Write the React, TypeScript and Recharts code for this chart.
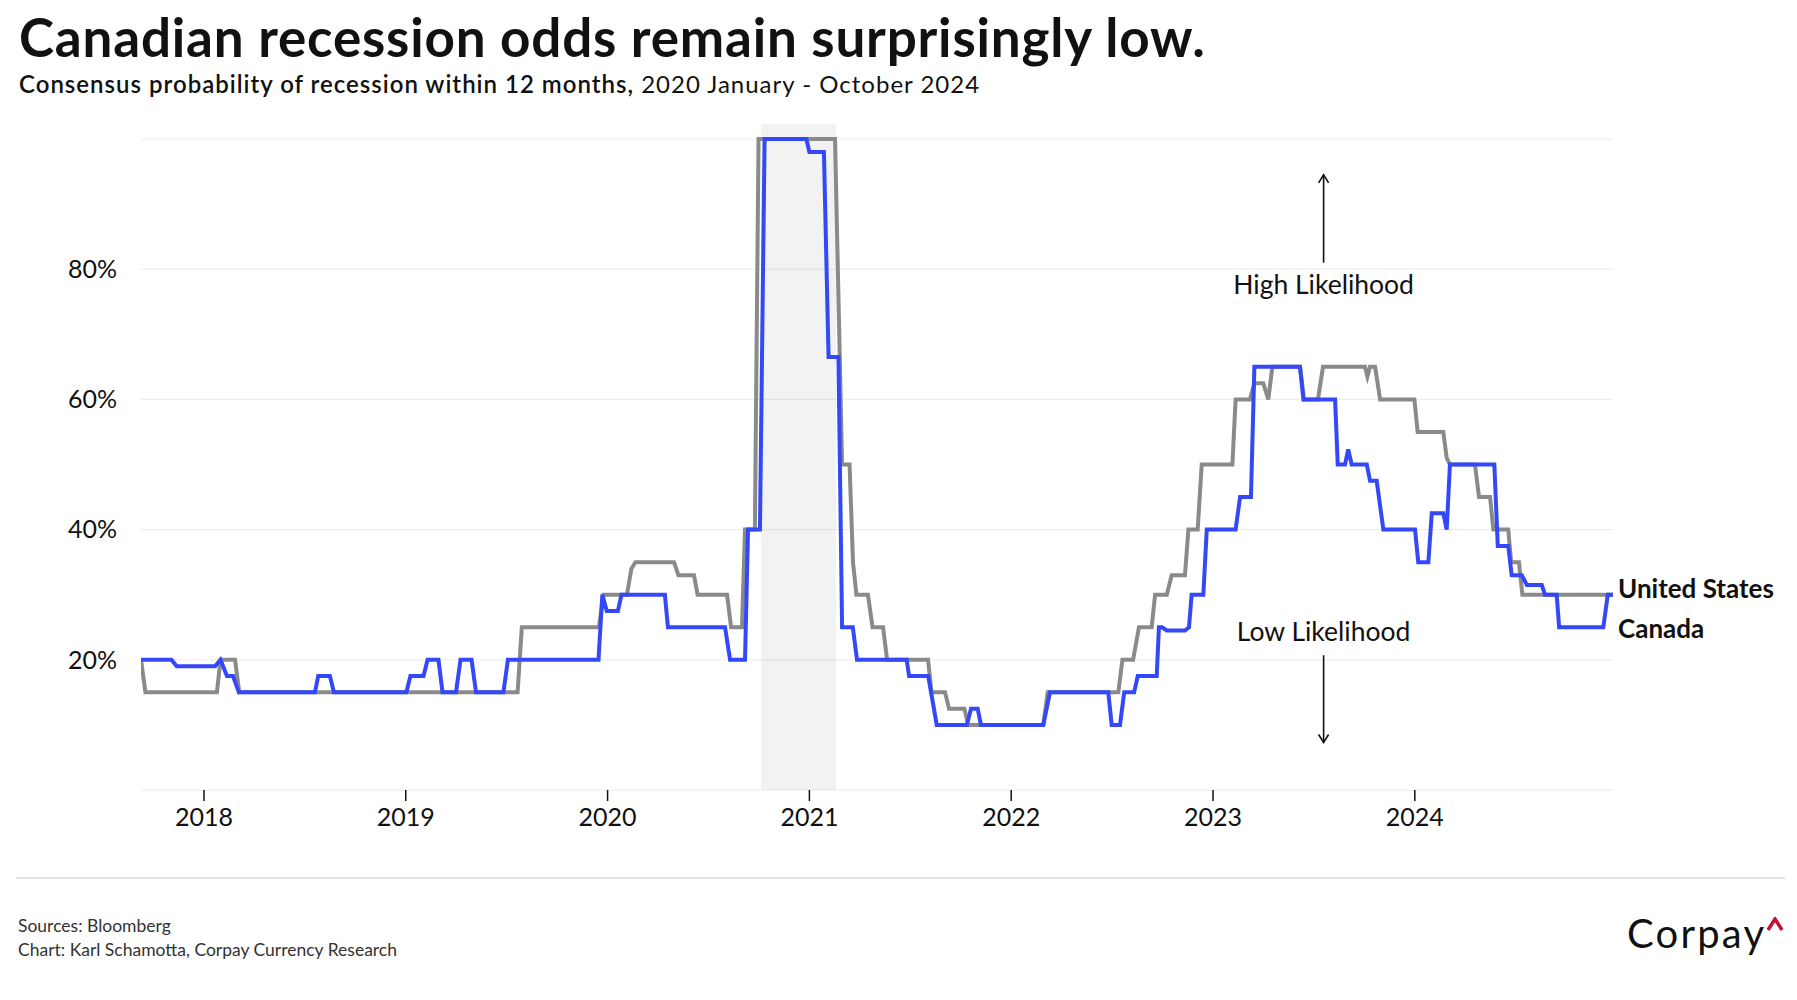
import {
  LineChart,
  Line,
  XAxis,
  YAxis,
  CartesianGrid,
  ReferenceArea,
  ReferenceLine,
  ReferenceDot,
} from 'recharts'

const FONT = 'Lato, "Noto Sans", sans-serif'

// [decimal year, consensus probability of recession in %]
const unitedStates: [number, number][] = [
  [2017.688, 20], [2017.71, 15], [2018.064, 15], [2018.082, 20], [2018.154, 20], [2018.175, 15],
  [2019.554, 15], [2019.575, 25], [2019.957, 25], [2019.98, 30], [2020.096, 30], [2020.118, 34],
  [2020.138, 35], [2020.329, 35], [2020.351, 33], [2020.428, 33], [2020.446, 30], [2020.592, 30],
  [2020.612, 25], [2020.666, 25], [2020.681, 40], [2020.73, 40], [2020.748, 100], [2021.127, 100],
  [2021.162, 50], [2021.199, 50], [2021.216, 35], [2021.233, 30], [2021.29, 30], [2021.313, 25],
  [2021.365, 25], [2021.385, 20], [2021.588, 20], [2021.605, 15], [2021.672, 15], [2021.692, 12.5],
  [2021.768, 12.5], [2021.787, 10], [2022.159, 10], [2022.181, 15], [2022.531, 15], [2022.551, 20],
  [2022.604, 20], [2022.633, 25], [2022.696, 25], [2022.713, 30], [2022.771, 30], [2022.795, 33],
  [2022.861, 33], [2022.878, 40], [2022.924, 40], [2022.944, 50], [2023.096, 50], [2023.112, 60],
  [2023.183, 60], [2023.205, 62.5], [2023.249, 62.5], [2023.274, 60], [2023.294, 65], [2023.431, 65],
  [2023.451, 60], [2023.52, 60], [2023.545, 65], [2023.753, 65], [2023.765, 63.5], [2023.778, 65],
  [2023.803, 65], [2023.828, 60], [2023.998, 60], [2024.014, 55], [2024.141, 55], [2024.158, 51],
  [2024.174, 50], [2024.298, 50], [2024.318, 45], [2024.373, 45], [2024.389, 40], [2024.463, 40],
  [2024.477, 35], [2024.516, 35], [2024.533, 30], [2024.982, 30],
]

const canada: [number, number][] = [
  [2017.688, 20], [2017.839, 20], [2017.865, 19], [2018.055, 19], [2018.082, 20], [2018.114, 17.5],
  [2018.144, 17.5], [2018.173, 15], [2018.55, 15], [2018.566, 17.5], [2018.624, 17.5], [2018.644, 15],
  [2019.003, 15], [2019.023, 17.5], [2019.088, 17.5], [2019.108, 20], [2019.162, 20], [2019.182, 15],
  [2019.249, 15], [2019.271, 20], [2019.326, 20], [2019.348, 15], [2019.484, 15], [2019.506, 20],
  [2019.955, 20], [2019.974, 30], [2019.996, 27.5], [2020.051, 27.5], [2020.069, 30], [2020.284, 30],
  [2020.299, 25], [2020.582, 25], [2020.607, 20], [2020.681, 20], [2020.696, 40], [2020.755, 40],
  [2020.778, 100], [2020.985, 100], [2021.0, 98], [2021.072, 98], [2021.095, 66.5], [2021.144, 66.5],
  [2021.162, 25], [2021.215, 25], [2021.236, 20], [2021.482, 20], [2021.494, 17.5], [2021.589, 17.5],
  [2021.631, 10], [2021.78, 10], [2021.801, 12.5], [2021.834, 12.5], [2021.85, 10], [2022.159, 10],
  [2022.192, 15], [2022.481, 15], [2022.498, 10], [2022.539, 10], [2022.56, 15], [2022.609, 15],
  [2022.627, 17.5], [2022.721, 17.5], [2022.732, 25], [2022.747, 25], [2022.771, 24.5], [2022.861, 24.5],
  [2022.881, 25], [2022.894, 30], [2022.952, 30], [2022.969, 40], [2023.112, 40], [2023.134, 45],
  [2023.188, 45], [2023.205, 65], [2023.431, 65], [2023.448, 60], [2023.605, 60], [2023.618, 50],
  [2023.654, 50], [2023.67, 52.3], [2023.687, 50], [2023.762, 50], [2023.778, 47.5], [2023.811, 47.5],
  [2023.844, 40], [2024.001, 40], [2024.017, 35], [2024.067, 35], [2024.084, 42.5], [2024.141, 42.5],
  [2024.158, 40], [2024.174, 50], [2024.394, 50], [2024.411, 37.5], [2024.463, 37.5], [2024.48, 33],
  [2024.53, 33], [2024.555, 31.5], [2024.629, 31.5], [2024.645, 30], [2024.703, 30], [2024.715, 25],
  [2024.934, 25], [2024.956, 30], [2024.982, 30],
]

const yearTicks = [2018, 2019, 2020, 2021, 2022, 2023, 2024]
const pctTicks = [0, 20, 40, 60, 80, 100]
const xDomain: [number, number] = [2017.688, 2024.982]
const shadedPeriod: [number, number] = [2020.76, 2021.132]

// annotation arrows: x, from %, to %
const annotationX = 2023.548
const highArrow: [number, number] = [81, 94.5]
const lowArrow: [number, number] = [20.7, 7.3]

const usData = unitedStates.map(([t, v]) => ({ t, v }))
const caData = canada.map(([t, v]) => ({ t, v }))
const usLast = unitedStates[unitedStates.length - 1]
const caLast = canada[canada.length - 1]

function Arrow(props: any) {
  const { x1, y1, x2, y2 } = props
  if ([x1, y1, x2, y2].some((v) => v == null || Number.isNaN(v))) return null
  const dir = y2 < y1 ? -1 : 1
  return (
    <g>
      <line x1={x1} y1={y1} x2={x2} y2={y2} stroke="#111" strokeWidth={1.6} />
      <polyline
        points={`${x2 - 5},${y2 - dir * 8} ${x2},${y2} ${x2 + 5},${y2 - dir * 8}`}
        fill="none"
        stroke="#111"
        strokeWidth={1.6}
      />
    </g>
  )
}

function textShape(label: string, dx: number, dy: number, anchor: string, weight: number, size: number) {
  return (p: any) => (
    <text
      x={p.cx + dx}
      y={p.cy + dy}
      textAnchor={anchor}
      fontFamily={FONT}
      fontSize={size}
      fontWeight={weight}
      fill="#111"
    >
      {label}
    </text>
  )
}

export default function App() {
  return (
    <div style={{ position: 'relative', width: 1797, height: 1000, background: '#fff', fontFamily: FONT }}>
      <style>{'body{margin:0}'}</style>

      <LineChart
        width={1797}
        height={880}
        margin={{ top: 139, right: 184, bottom: 40, left: 0 }}
        style={{ position: 'absolute', left: 0, top: 0 }}
      >
        <CartesianGrid vertical={false} stroke="#ebebeb" />
        <ReferenceArea
          x1={shadedPeriod[0]}
          x2={shadedPeriod[1]}
          y1={0}
          y2={102.3}
          ifOverflow="visible"
          fill="#000"
          fillOpacity={0.05}
          stroke="none"
        />
        <XAxis
          dataKey="t"
          type="number"
          domain={xDomain}
          ticks={yearTicks}
          allowDataOverflow
          axisLine={false}
          tickSize={11}
          tickMargin={7}
          tickLine={{ stroke: '#111', strokeWidth: 1.5 }}
          tick={{ fill: '#111', fontSize: 25, fontFamily: FONT }}
          height={50}
        />
        <YAxis
          type="number"
          domain={[0, 100]}
          ticks={pctTicks}
          axisLine={false}
          tickLine={false}
          tickSize={0}
          tickMargin={24}
          width={141}
          tick={{ fill: '#111', fontSize: 25, fontFamily: FONT }}
          tickFormatter={(v) => (v === 0 || v === 100 ? '' : `${v}%`)}
        />
        <Line
          data={usData}
          dataKey="v"
          type="linear"
          stroke="#8a8a8a"
          strokeWidth={4}
          dot={false}
          isAnimationActive={false}
        />
        <Line
          data={caData}
          dataKey="v"
          type="linear"
          stroke="#3448fa"
          strokeWidth={4}
          dot={false}
          isAnimationActive={false}
        />
        <ReferenceLine
          segment={[{ x: annotationX, y: highArrow[0] }, { x: annotationX, y: highArrow[1] }]}
          shape={Arrow}
        />
        <ReferenceLine
          segment={[{ x: annotationX, y: lowArrow[0] }, { x: annotationX, y: lowArrow[1] }]}
          shape={Arrow}
        />
        <ReferenceDot x={annotationX} y={77.6} r={0} shape={textShape('High Likelihood', 0, 9, 'middle', 400, 26.5)} />
        <ReferenceDot x={annotationX} y={24.3} r={0} shape={textShape('Low Likelihood', 0, 9, 'middle', 400, 26.5)} />
        <ReferenceDot x={usLast[0]} y={usLast[1]} r={0} shape={textShape('United States', 5, 3, 'start', 700, 26)} />
        <ReferenceDot x={caLast[0]} y={caLast[1]} r={0} shape={textShape('Canada', 5, 43, 'start', 700, 26)} />
      </LineChart>

      <div
        style={{
          position: 'absolute',
          left: 19,
          top: 10,
          fontSize: 53,
          lineHeight: '53px',
          fontWeight: 700,
          letterSpacing: 0.8,
          color: '#111',
          whiteSpace: 'nowrap',
        }}
      >
        Canadian recession odds remain surprisingly low.
      </div>
      <div
        style={{
          position: 'absolute',
          left: 19,
          top: 72,
          fontSize: 24,
          lineHeight: '24px',
          letterSpacing: 1,
          color: '#111',
          whiteSpace: 'nowrap',
        }}
      >
        <span style={{ fontWeight: 600 }}>Consensus probability of recession within 12 months,</span>
        <span style={{ fontWeight: 400 }}> 2020 January - October 2024</span>
      </div>

      <div style={{ position: 'absolute', left: 16, top: 877, width: 1769, height: 2, background: '#e3e3e3' }} />

      <div style={{ position: 'absolute', left: 18, top: 917, fontSize: 17.5, lineHeight: '18px', color: '#333' }}>
        Sources: Bloomberg
      </div>
      <div style={{ position: 'absolute', left: 18, top: 941, fontSize: 17.5, lineHeight: '18px', color: '#333' }}>
        Chart: Karl Schamotta, Corpay Currency Research
      </div>

      <div
        style={{
          position: 'absolute',
          left: 1627,
          top: 913,
          fontSize: 40,
          lineHeight: '40px',
          letterSpacing: 2.2,
          color: '#111',
        }}
      >
        Corpay
      </div>
      <svg style={{ position: 'absolute', left: 1766, top: 917 }} width={18} height={15}>
        <polyline points="2,13 9,2 16,13" fill="none" stroke="#c4122f" strokeWidth={3.5} />
      </svg>
    </div>
  )
}
